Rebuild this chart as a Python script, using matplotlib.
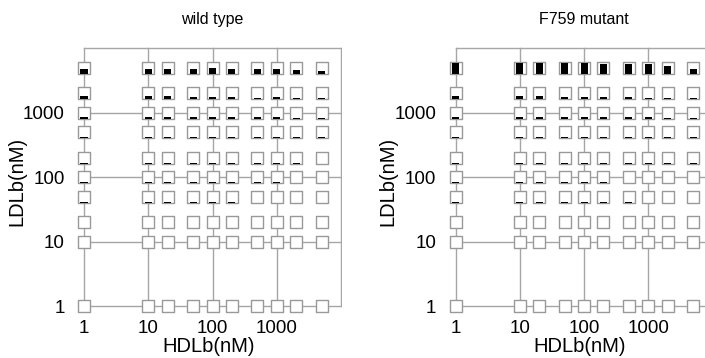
import numpy as np
import matplotlib
matplotlib.use("Agg")
import matplotlib.pyplot as plt

plt.rcParams['font.family'] = ['Liberation Sans', 'DejaVu Sans']

# concentrations (nM) used on both axes
hdl = [1, 10, 20, 50, 100, 200, 500, 1000, 2000, 5000]
ldl = [5000, 2000, 1000, 500, 200, 100, 50, 20, 10, 1]   # rows, top to bottom
tick_vals = [1, 10, 100, 1000]
tick_labels = ['1', '10', '100', '1000']

# filled fraction of each square, rows follow ldl, columns follow hdl
wild = [
    [0.42, 0.42, 0.40, 0.40, 0.44, 0.38, 0.38, 0.40, 0.30, 0.20],
    [0.25, 0.25, 0.25, 0.20, 0.22, 0.18, 0.15, 0.18, 0.10, 0.10],
    [0.15, 0.15, 0.15, 0.14, 0.15, 0.13, 0.12, 0.14, 0.10, 0.09],
    [0.13, 0.13, 0.13, 0.10, 0.10, 0.10, 0.09, 0.09, 0.08, 0.07],
    [0.10, 0.10, 0.10, 0.09, 0.09, 0.08, 0.08, 0.08, 0.06, 0.00],
    [0.08, 0.08, 0.08, 0.08, 0.08, 0.07, 0.07, 0.07, 0.06, 0.05],
    [0.08, 0.08, 0.08, 0.07, 0.07, 0.07, 0.00, 0.00, 0.00, 0.00],
    [0.0] * 10,
    [0.0] * 10,
    [0.0] * 10,
]
mutant = [
    [0.85, 0.85, 0.85, 0.85, 0.85, 0.82, 0.80, 0.78, 0.62, 0.38],
    [0.25, 0.25, 0.25, 0.22, 0.22, 0.22, 0.18, 0.15, 0.10, 0.08],
    [0.15, 0.15, 0.14, 0.14, 0.14, 0.13, 0.12, 0.12, 0.10, 0.09],
    [0.13, 0.13, 0.12, 0.10, 0.10, 0.10, 0.09, 0.09, 0.08, 0.07],
    [0.09, 0.09, 0.08, 0.08, 0.08, 0.08, 0.07, 0.07, 0.06, 0.05],
    [0.08, 0.08, 0.08, 0.07, 0.07, 0.07, 0.06, 0.06, 0.05, 0.05],
    [0.08, 0.08, 0.08, 0.07, 0.07, 0.06, 0.06, 0.00, 0.00, 0.00],
    [0.0] * 10,
    [0.0] * 10,
    [0.0] * 10,
]

grey = '#a6a6a6'
half = 0.095      # half side of a square, in decades
bar_half = 0.055  # half width of the black bar, in decades


def panel(ax, frac, title):
    X, Y = np.meshgrid(hdl, ldl)
    F = np.array(frac)
    # grid lines from 1 to 10^4
    for v in [1, 10, 100, 1000, 10000]:
        ax.plot([1, 10000], [v, v], color=grey, lw=1, zorder=1)
        ax.plot([v, v], [1, 10000], color=grey, lw=1, zorder=1)
    ax.scatter(X.ravel(), Y.ravel(), marker='s', s=78, facecolor='white',
               edgecolor='#999999', linewidths=1, zorder=2)
    xs, ys, fs = X.ravel(), Y.ravel(), F.ravel()
    m = fs > 0
    left = xs[m] * 10 ** -bar_half
    right = xs[m] * 10 ** bar_half
    bottom = ys[m] * 10 ** -half
    top = ys[m] * 10 ** (-half + 2 * half * fs[m])
    ax.bar(left, top - bottom, width=right - left, bottom=bottom,
           align='edge', color='black', lw=0, zorder=3)
    ax.set_xscale('log')
    ax.set_yscale('log')
    ax.set_xlim(10 ** -0.15, 10 ** 4.02)
    ax.set_ylim(10 ** -0.15, 10 ** 4.02)
    ax.minorticks_off()
    ax.set_xticks(tick_vals, tick_labels)
    ax.set_yticks(tick_vals, tick_labels)
    ax.tick_params(length=0, labelsize=13.5, pad=3)
    ax.tick_params(axis='y', pad=7)
    for s in ax.spines.values():
        s.set_visible(False)
    ax.set_xlabel('HDLb(nM)', fontsize=14.5, labelpad=0)
    ax.set_ylabel('LDLb(nM)', fontsize=14.5)
    ax.yaxis.set_label_coords(-0.18, 0.5)
    ax.text(100, 1.075, title, transform=ax.get_xaxis_transform(),
            ha='center', va='bottom', fontsize=11.5)


fig = plt.figure(figsize=(7.05, 3.58), dpi=100)
ax1 = fig.add_axes([0.1055, 0.118, 0.380, 0.751])
ax2 = fig.add_axes([0.6325, 0.118, 0.380, 0.751])
panel(ax1, wild, 'wild type')
panel(ax2, mutant, 'F759 mutant')
fig.savefig('out.png', dpi=100)
